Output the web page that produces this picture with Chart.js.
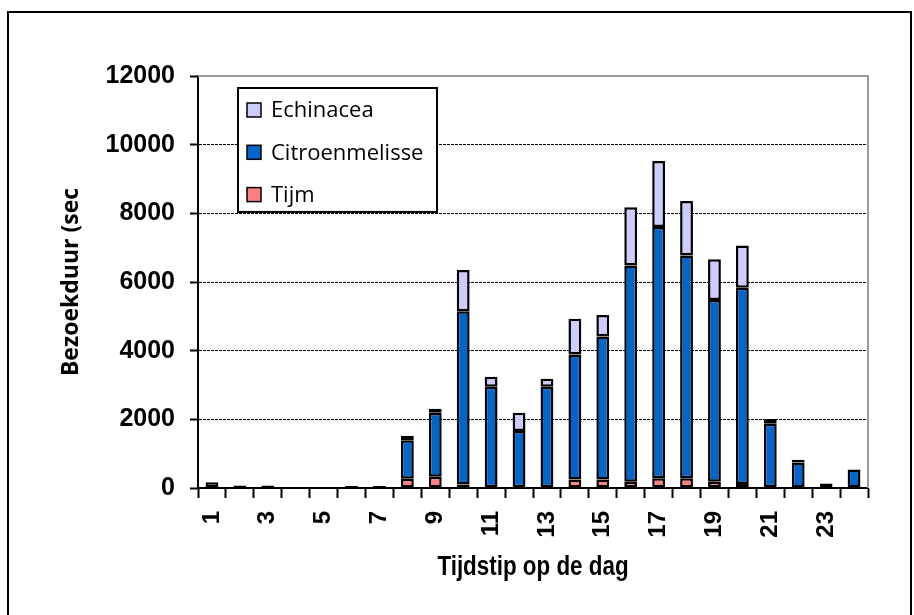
<!DOCTYPE html>
<html>
<head>
<meta charset="utf-8">
<script src="https://cdn.jsdelivr.net/npm/chart.js@4.4.1/dist/chart.umd.min.js"></script>
<style>
  html, body { margin: 0; padding: 0; background: #fff; }
  #wrap { width: 914px; height: 615px; }
</style>
</head>
<body>
<div id="wrap"><canvas id="graphCanvas"></canvas></div>
<script>
// uren van de dag
var hours = ['1','2','3','4','5','6','7','8','9','10','11','12','13','14','15','16','17','18','19','20','21','22','23','24'];

// bezoekduur per plant (sec)
var tijm = [0, 0, 0, 0, 0, 0, 0, 270, 330, 100, 30, 30, 30, 245, 245, 180, 285, 285, 180, 120, 30, 0, 0, 0];
var citroenmelisse = [0, 70, 70, 0, 0, 60, 60, 1120, 1860, 5050, 2920, 1630, 2920, 3640, 4165, 6300, 7315, 6490, 5295, 5710, 1840, 740, 90, 540];
var echinacea = [170, 0, 0, 0, 0, 0, 0, 130, 120, 1200, 290, 530, 235, 1045, 630, 1700, 1925, 1585, 1185, 1230, 140, 80, 40, 0];

var yTicks = [0, 2000, 4000, 6000, 8000, 10000, 12000];
var xTitle = 'Tijdstip op de dag';

// wit vlak + kader, grijze rand om het plotgebied
var frame = {
    id: 'frame',
    beforeDraw: function (chart) {
        var ctx = chart.ctx;
        ctx.save();
        ctx.fillStyle = '#fff';
        ctx.fillRect(0, 0, chart.width, chart.height);
        ctx.strokeStyle = '#000';
        ctx.lineWidth = 2;
        ctx.strokeRect(8, 12, chart.width - 11, chart.height + 20);
        ctx.restore();
    },
    beforeDatasetsDraw: function (chart) {
        var a = chart.chartArea, ctx = chart.ctx;
        ctx.save();
        ctx.strokeStyle = '#9a9a9a';
        ctx.lineWidth = 2;
        ctx.beginPath();
        ctx.moveTo(a.left, a.top);
        ctx.lineTo(a.right, a.top);
        ctx.lineTo(a.right, a.bottom);
        ctx.stroke();
        ctx.restore();
    },
    afterDraw: function (chart) {
        // as-titel in smalle letter (Arial Narrow is er niet)
        var a = chart.chartArea, ctx = chart.ctx;
        ctx.save();
        ctx.translate((a.left + a.right) / 2, a.bottom + 79);
        ctx.scale(0.8, 1);
        ctx.font = 'bold 28px "Liberation Sans", Arial, sans-serif';
        ctx.fillStyle = '#000';
        ctx.textAlign = 'center';
        ctx.textBaseline = 'middle';
        ctx.fillText(xTitle, 0, 0);
        ctx.restore();
    }
};

// legenda in een kader binnen het plotgebied
var boxLegend = {
    id: 'boxLegend',
    afterDraw: function (chart) {
        var a = chart.chartArea, ctx = chart.ctx;
        var x = a.left + 40, y = a.top + 12, w = 199, h = 124;
        ctx.save();
        ctx.fillStyle = '#fff';
        ctx.fillRect(x, y, w, h);
        ctx.strokeStyle = '#000';
        ctx.lineWidth = 2;
        ctx.strokeRect(x, y, w, h);
        ctx.font = '22px "Open Sans", sans-serif';
        ctx.textBaseline = 'middle';
        var items = chart.data.datasets.slice().reverse();
        items.forEach(function (ds, i) {
            var cy = y + 22 + i * 42.3;
            ctx.fillStyle = ds.backgroundColor;
            ctx.fillRect(x + 9, cy - 7, 14, 14);
            ctx.lineWidth = 1.5;
            ctx.strokeStyle = '#000';
            ctx.strokeRect(x + 9, cy - 7, 14, 14);
            ctx.fillStyle = '#000';
            ctx.fillText(ds.label, x + 33, cy + 1);
        });
        ctx.restore();
    }
};

var chartdata = {
    labels: hours,
    datasets: [
        { label: 'Tijm', data: tijm, backgroundColor: '#FF8080' },
        { label: 'Citroenmelisse', data: citroenmelisse, backgroundColor: '#0066CC' },
        { label: 'Echinacea', data: echinacea, backgroundColor: '#CCCCFF' }
    ]
};
chartdata.datasets.forEach(function (ds) {
    ds.borderColor = '#000';
    ds.borderWidth = 2.5;
    ds.borderSkipped = false;
    ds.barPercentage = 0.46;
    ds.categoryPercentage = 1.0;
});

var barGraph = new Chart(document.getElementById('graphCanvas'), {
    type: 'bar',
    data: chartdata,
    plugins: [frame, boxLegend],
    options: {
        responsive: true,
        maintainAspectRatio: false,
        animation: false,
        layout: { padding: { left: 0, top: 76, right: 46, bottom: 0 } },
        plugins: {
            legend: { display: false },
            tooltip: { enabled: false }
        },
        scales: {
            x: {
                stacked: true,
                afterFit: function (scale) { scale.height = 127; },
                grid: {
                    offset: true,
                    drawOnChartArea: false,
                    drawTicks: true,
                    tickLength: 10,
                    tickColor: '#000',
                    tickWidth: 2
                },
                border: { color: '#000', width: 2 },
                ticks: {
                    autoSkip: false,
                    minRotation: 90,
                    maxRotation: 90,
                    padding: 13,
                    color: '#000',
                    font: { family: '"Liberation Sans", Arial, sans-serif', size: 24, weight: 'bold' },
                    callback: function (v, i) { return i % 2 === 0 ? hours[i] : ''; }
                }
            },
            y: {
                stacked: true,
                min: 0,
                max: 12000,
                afterFit: function (scale) { scale.width = 198; },
                afterBuildTicks: function (scale) {
                    scale.ticks = yTicks.map(function (v) { return { value: v }; });
                },
                grid: {
                    color: function (c) { return c.tick && c.tick.value === 12000 ? 'rgba(0,0,0,0)' : '#000'; },
                    lineWidth: 1,
                    drawTicks: true,
                    tickLength: 8,
                    tickColor: '#000',
                    tickWidth: 2
                },
                border: { color: '#000', width: 2, dash: [3, 1] },
                ticks: {
                    padding: 15,
                    color: '#000',
                    font: { family: '"Liberation Sans", Arial, sans-serif', size: 25, weight: 'bold' },
                    callback: function (v) { return String(v); }
                },
                title: {
                    display: true,
                    text: 'Bezoekduur (sec',
                    color: '#000',
                    font: { family: '"Open Sans", sans-serif', size: 23, weight: 'bold' },
                    padding: { top: 58, bottom: 0 }
                }
            }
        }
    }
});
</script>
</body>
</html>
